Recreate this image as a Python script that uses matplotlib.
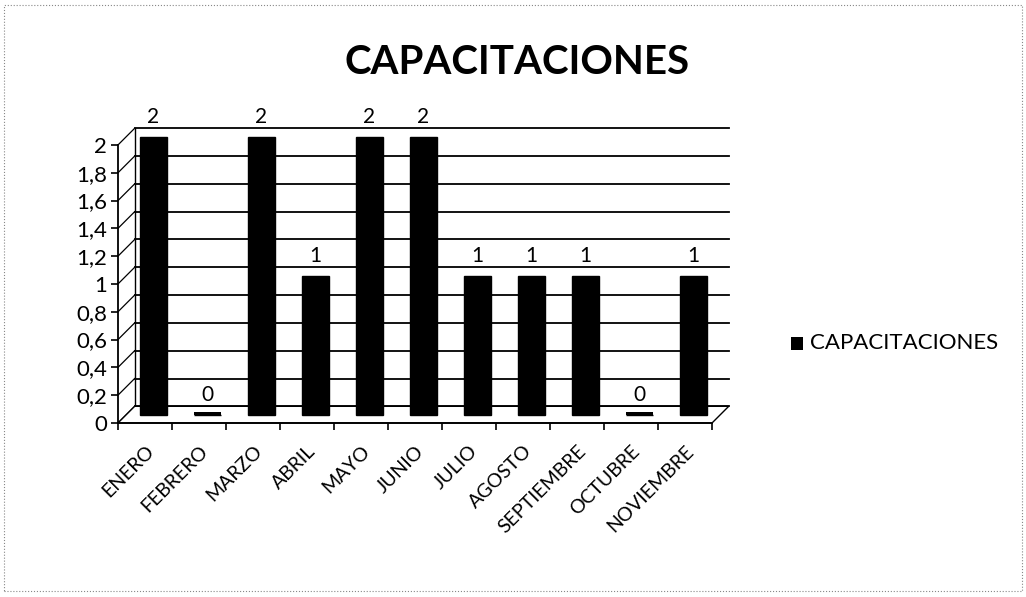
import numpy as np
import matplotlib.pyplot as plt
from matplotlib.transforms import offset_copy
from matplotlib.patches import Polygon, Rectangle

plt.rcParams['font.family'] = ['Lato', 'DejaVu Sans']

# datos
meses = ['ENERO', 'FEBRERO', 'MARZO', 'ABRIL', 'MAYO', 'JUNIO', 'JULIO',
         'AGOSTO', 'SEPTIEMBRE', 'OCTUBRE', 'NOVIEMBRE']
capacitaciones = [2, 0, 2, 1, 2, 2, 1, 1, 1, 0, 1]
y_ticks = [0, 0.2, 0.4, 0.6, 0.8, 1, 1.2, 1.4, 1.6, 1.8, 2]
y_labels = ['0', '0,2', '0,4', '0,6', '0,8', '1', '1,2', '1,4', '1,6', '1,8', '2']

fig = plt.figure(figsize=(10.26, 5.97), dpi=100)
ax = fig.add_axes([0.115, 0.2915, 0.579, 0.4657])
x = np.arange(len(meses))
ax.set_xlim(-0.5, len(meses) - 0.5)
ax.set_ylim(0, 2)

# profundidad del efecto 3D (en puntos)
dx, dy = 12, 12
back = offset_copy(ax.transData, fig=fig, x=dx, y=dy, units='points')
mid = offset_copy(ax.transData, fig=fig, x=dx / 2, y=dy / 2, units='points')

# pared del fondo y lineas de cuadricula
for yv in y_ticks:
    ax.plot([-0.5, len(meses) - 0.5], [yv, yv], color='black', lw=1.3,
            transform=back, clip_on=False, zorder=1)
    # diagonal en la pared izquierda
    p0 = ax.transData.transform((-0.5, yv))
    p1 = back.transform((-0.5, yv))
    ax.plot([p0[0], p1[0]], [p0[1], p1[1]], color='black', lw=0.9,
            transform=None, clip_on=False, zorder=1)

# suelo
corners = [(-0.5, 0), (len(meses) - 0.5, 0)]
f0 = ax.transData.transform(corners[0])
f1 = ax.transData.transform(corners[1])
b0 = back.transform(corners[0])
b1 = back.transform(corners[1])
ax.add_patch(Polygon([f0, f1, b1, b0], closed=True, facecolor='white',
                     edgecolor='black', lw=1.0, transform=None, zorder=1.5,
                     clip_on=False))
ax.plot([b0[0], b0[0]], [b0[1], back.transform((-0.5, 2))[1]],
        color='black', lw=1.0, transform=None, clip_on=False, zorder=1)

# barras
ax.bar(x, capacitaciones, width=0.5, color='black', edgecolor='black',
       transform=mid, zorder=3, clip_on=False)
for xi, v in zip(x, capacitaciones):
    if v == 0:
        ax.bar(xi, 0.02, width=0.5, color='black', transform=mid, zorder=3,
               clip_on=False)
    ax.text(xi, v + 0.07, str(v), ha='center', va='bottom', fontsize=15,
            transform=mid, zorder=4)

# ejes
for s in ['top', 'right']:
    ax.spines[s].set_visible(False)
ax.spines['left'].set_linewidth(1.3)
ax.spines['bottom'].set_linewidth(1.3)
ax.set_yticks(y_ticks)
ax.set_yticklabels(y_labels, fontsize=16)
ax.set_xticks(np.arange(len(meses) + 1) - 0.5, minor=True)
ax.set_xticks(x)
ax.set_xticklabels(meses, rotation=45, ha='right', rotation_mode='anchor',
                   fontsize=14)
ax.tick_params(axis='x', which='major', length=0, pad=14)
ax.tick_params(axis='x', which='minor', length=5, width=1.2)
ax.tick_params(axis='y', length=5, width=1.2, pad=3)
ax.patch.set_visible(False)

fig.text(0.504, 0.895, 'CAPACITACIONES', ha='center', va='center',
         fontsize=29, fontweight='bold')

# leyenda
fig.patches.append(Rectangle((0.771, 0.413), 0.012, 0.022, facecolor='black',
                             transform=fig.transFigure, figure=fig))
fig.text(0.789, 0.425, 'CAPACITACIONES', ha='left', va='center', fontsize=16)

# marco
fig.patches.append(Rectangle((0.004, 0.01), 0.992, 0.982, fill=False,
                             edgecolor='#888888', lw=0.8, linestyle=':',
                             transform=fig.transFigure, figure=fig))

fig.savefig('out.png', dpi=100)
